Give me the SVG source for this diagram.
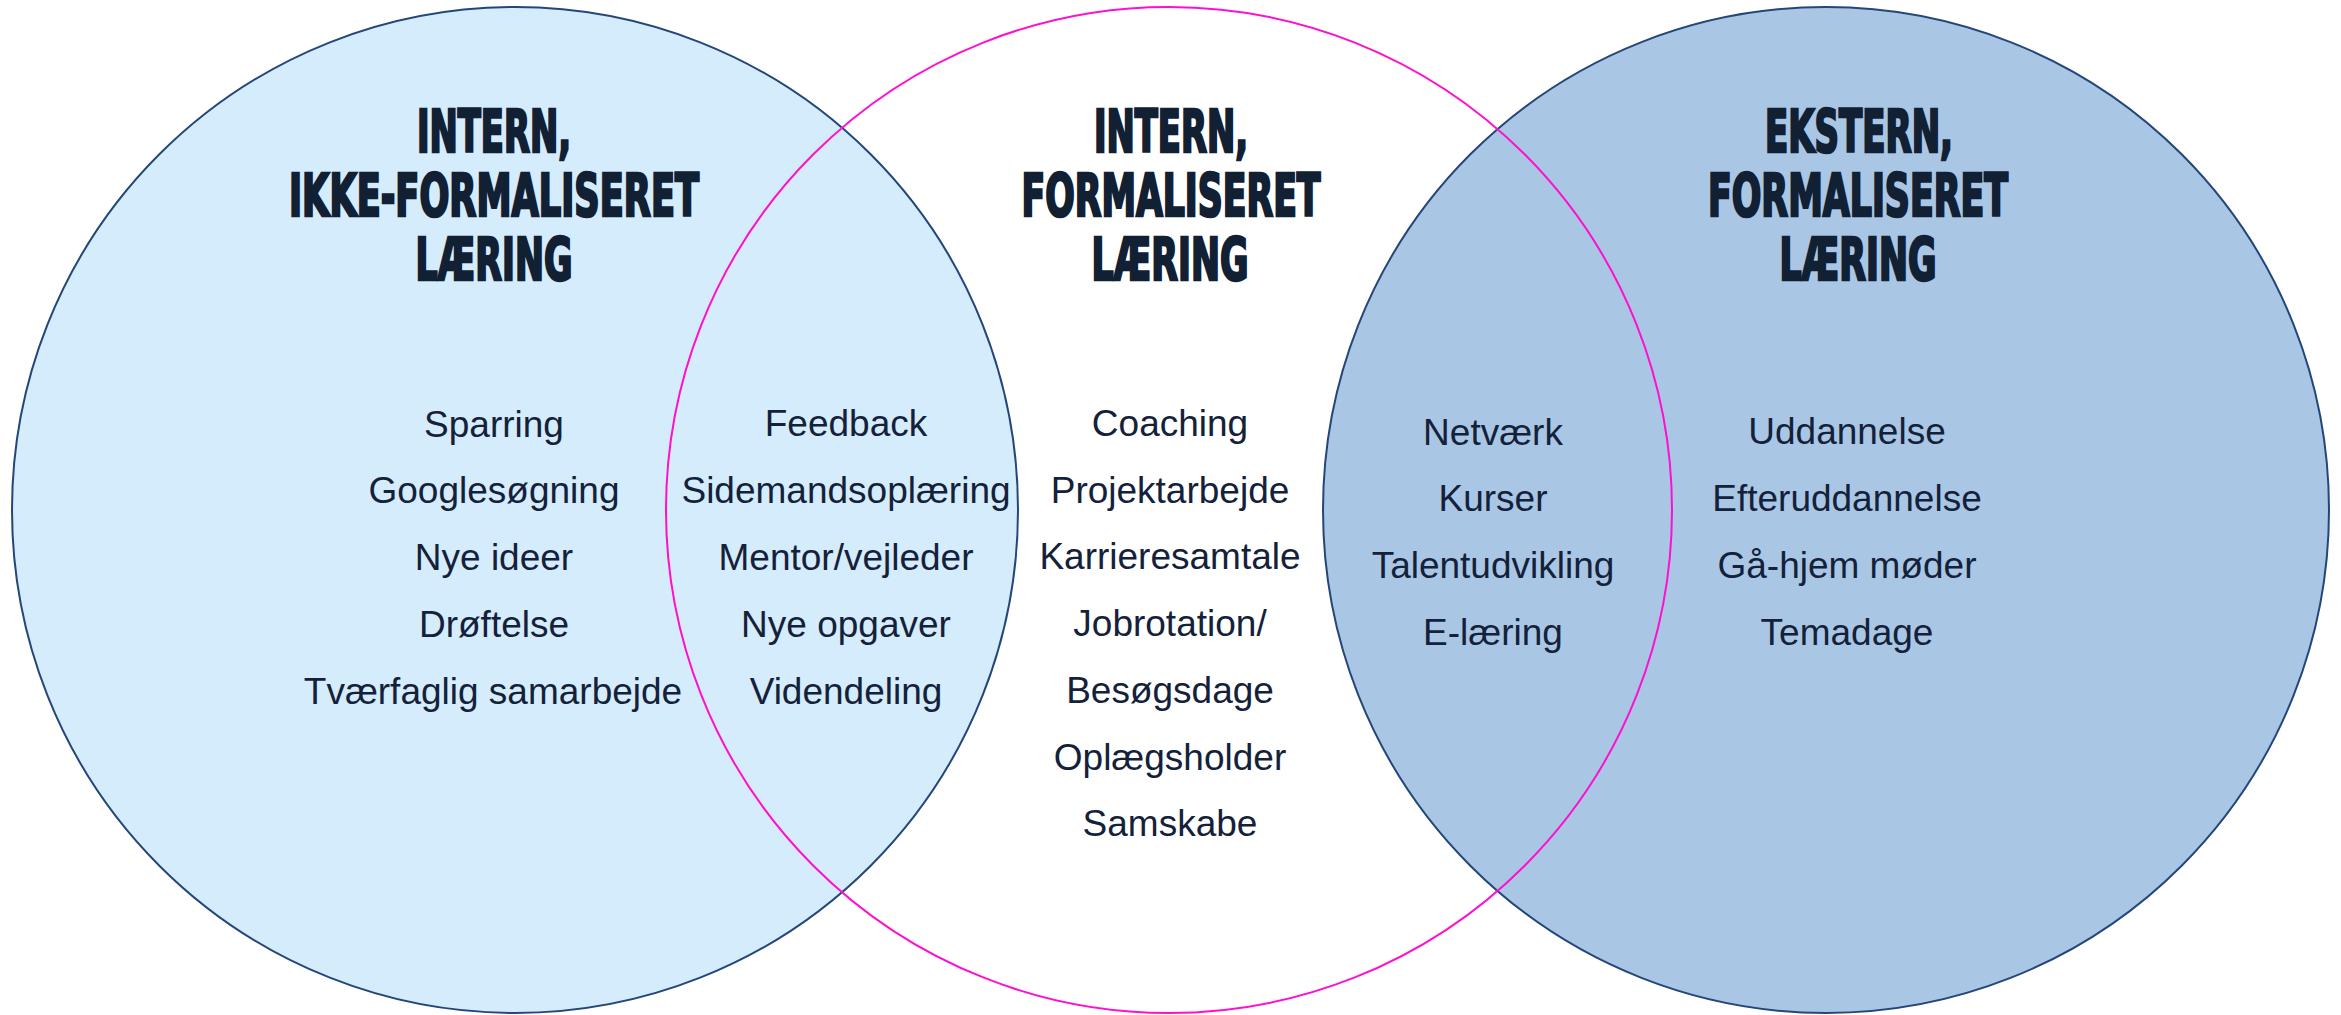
<svg xmlns="http://www.w3.org/2000/svg" width="2341" height="1015" viewBox="0 0 2341 1015">
  <style>
    .title { font-family: "Liberation Sans Narrow", "DejaVu Sans Condensed", "Liberation Sans", sans-serif; font-weight: bold; font-size: 58px; fill: #122034; stroke: #122034; stroke-width: 2.6; stroke-linejoin: miter; text-anchor: middle; }
    .item { font-family: "Liberation Sans", Arial, sans-serif; font-size: 37px; fill: #14213A; text-anchor: middle; }
    .ring { stroke-width: 2; }
  </style>
  <rect width="2341" height="1015" fill="#FFFFFF"/>

  <!-- Circles -->
  <g id="circle-intern-ikke-formaliseret">
    <circle class="ring" cx="515" cy="510" r="503" fill="#D4ECFB" stroke="#24467A"/>
  </g>
  <g id="circle-ekstern-formaliseret">
    <circle class="ring" cx="1826" cy="510" r="503" fill="#A9C7E4" stroke="#24467A"/>
  </g>
  <g id="circle-intern-formaliseret">
    <circle class="ring" cx="1169" cy="510" r="503" fill="none" stroke="#FF10CC"/>
  </g>

  <!-- Headings -->
  <g id="heading-left">
    <text class="title" x="494" y="152" textLength="154" lengthAdjust="spacingAndGlyphs">INTERN,</text>
    <text class="title" x="494" y="216" textLength="410" lengthAdjust="spacingAndGlyphs">IKKE-FORMALISERET</text>
    <text class="title" x="494" y="280" textLength="157" lengthAdjust="spacingAndGlyphs">LÆRING</text>
  </g>
  <g id="heading-middle">
    <text class="title" x="1171" y="152" textLength="154" lengthAdjust="spacingAndGlyphs">INTERN,</text>
    <text class="title" x="1171" y="216" textLength="299" lengthAdjust="spacingAndGlyphs">FORMALISERET</text>
    <text class="title" x="1170" y="280" textLength="157" lengthAdjust="spacingAndGlyphs">LÆRING</text>
  </g>
  <g id="heading-right">
    <text class="title" x="1859" y="152" textLength="188" lengthAdjust="spacingAndGlyphs">EKSTERN,</text>
    <text class="title" x="1858" y="216" textLength="300" lengthAdjust="spacingAndGlyphs">FORMALISERET</text>
    <text class="title" x="1858" y="280" textLength="157" lengthAdjust="spacingAndGlyphs">LÆRING</text>
  </g>

  <!-- Items: informal, internal -->
  <g id="items-left">
    <text class="item" x="494" y="437">Sparring</text>
    <text class="item" x="494" y="503">Googlesøgning</text>
    <text class="item" x="494" y="570">Nye ideer</text>
    <text class="item" x="494" y="637">Drøftelse</text>
    <text class="item" x="493" y="704">Tværfaglig samarbejde</text>
  </g>

  <!-- Items: overlap left/middle -->
  <g id="items-left-middle">
    <text class="item" x="846" y="436">Feedback</text>
    <text class="item" x="846" y="503">Sidemandsoplæring</text>
    <text class="item" x="846" y="570">Mentor/vejleder</text>
    <text class="item" x="846" y="637">Nye opgaver</text>
    <text class="item" x="846" y="704">Videndeling</text>
  </g>

  <!-- Items: formal, internal -->
  <g id="items-middle">
    <text class="item" x="1170" y="436">Coaching</text>
    <text class="item" x="1170" y="503">Projektarbejde</text>
    <text class="item" x="1170" y="569">Karrieresamtale</text>
    <text class="item" x="1170" y="636">Jobrotation/</text>
    <text class="item" x="1170" y="703">Besøgsdage</text>
    <text class="item" x="1170" y="770">Oplægsholder</text>
    <text class="item" x="1170" y="836">Samskabe</text>
  </g>

  <!-- Items: overlap middle/right -->
  <g id="items-middle-right">
    <text class="item" x="1493" y="445">Netværk</text>
    <text class="item" x="1493" y="511">Kurser</text>
    <text class="item" x="1493" y="578">Talentudvikling</text>
    <text class="item" x="1493" y="645">E-læring</text>
  </g>

  <!-- Items: formal, external -->
  <g id="items-right">
    <text class="item" x="1847" y="444">Uddannelse</text>
    <text class="item" x="1847" y="511">Efteruddannelse</text>
    <text class="item" x="1847" y="578">Gå-hjem møder</text>
    <text class="item" x="1847" y="645">Temadage</text>
  </g>

  <!-- No connectors in this diagram -->
  <g id="connectors"/>
</svg>
